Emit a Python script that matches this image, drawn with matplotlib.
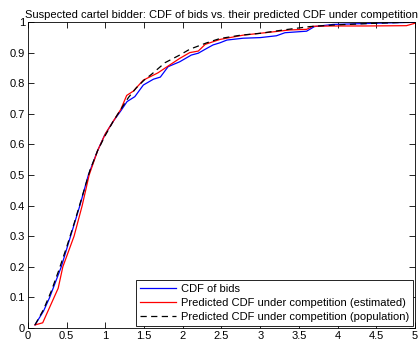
import matplotlib
matplotlib.use("Agg")
import matplotlib.pyplot as plt

plt.rcParams['font.family'] = ['Liberation Sans', 'DejaVu Sans']

title = "Suspected cartel bidder: CDF of bids vs. their predicted CDF under competition"
labels = ["CDF of bids",
          "Predicted CDF under competition (estimated)",
          "Predicted CDF under competition (population)"]

bids_x = [0.09, 0.2, 0.28, 0.43, 0.55, 0.67, 0.78, 0.9, 0.99, 1.1, 1.2, 1.28, 1.38,
          1.49, 1.62, 1.71, 1.81, 1.96, 2.11, 2.2, 2.29, 2.39, 2.48, 2.57, 2.78, 3.0,
          3.21, 3.32, 3.6, 3.7, 3.94, 4.5, 5.0]
bids_y = [0.01, 0.055, 0.10, 0.2, 0.3, 0.4, 0.5, 0.58, 0.63, 0.675, 0.71,
          0.74, 0.756, 0.794, 0.813, 0.82, 0.854, 0.87, 0.892, 0.898, 0.911, 0.925,
          0.932, 0.941, 0.947, 0.949, 0.955, 0.965, 0.97, 0.985, 0.992, 0.996, 0.999]

est_x = [0.09, 0.19, 0.39, 0.45, 0.595, 0.7, 0.79, 0.9, 1.0, 1.1, 1.2, 1.275, 1.36, 1.49,
         1.68, 1.81, 1.96, 2.09, 2.2, 2.29, 2.48, 2.78, 3.21, 3.38, 3.6, 3.68, 3.94,
         4.37, 4.89, 5.0]
est_y = [0.01, 0.017, 0.13, 0.2, 0.3, 0.4, 0.5, 0.58, 0.635, 0.675, 0.715, 0.76,
         0.774, 0.81, 0.834, 0.856, 0.881, 0.90, 0.905, 0.927, 0.943, 0.957, 0.969,
         0.974, 0.976, 0.986, 0.987, 0.987, 0.988, 0.996]

pop_x = [0.09, 0.2, 0.3, 0.4, 0.5, 0.6, 0.7, 0.8, 0.9, 1.0, 1.1, 1.2, 1.3, 1.4, 1.5,
         1.6, 1.77, 1.96, 2.09, 2.31, 2.48, 2.75, 3.0, 3.3, 3.64, 3.94, 4.5, 5.0]
pop_y = [0.01, 0.06, 0.12, 0.19, 0.265, 0.345, 0.43, 0.515, 0.58, 0.63, 0.675, 0.715,
         0.754, 0.785, 0.81, 0.83, 0.867, 0.892, 0.911, 0.932, 0.946, 0.957, 0.963,
         0.974, 0.985, 0.99, 0.996, 1.0]

xticks = [0, 0.5, 1, 1.5, 2, 2.5, 3, 3.5, 4, 4.5, 5]
xticklabels = ["0", "0.5", "1", "1.5", "2", "2.5", "3", "3.5", "4", "4.5", "5"]
yticks = [0, 0.1, 0.2, 0.3, 0.4, 0.5, 0.6, 0.7, 0.8, 0.9, 1]
yticklabels = ["0", "0.1", "0.2", "0.3", "0.4", "0.5", "0.6", "0.7", "0.8", "0.9", "1"]

fig = plt.figure(figsize=(4.2, 3.42), dpi=100)
ax = fig.add_axes([28/420, 14/342, (415-28)/420, (328-22)/342])

ax.plot(bids_x, bids_y, color='#0000ff', lw=0.9, label=labels[0])
ax.plot(est_x, est_y, color='#ff0000', lw=0.9, label=labels[1])
ax.plot(pop_x, pop_y, color='black', lw=0.9, ls=(0, (5, 3.5)), label=labels[2])

ax.set_xlim(0, 5)
ax.set_ylim(0, 1)
ax.set_xticks(xticks)
ax.set_xticklabels(xticklabels)
ax.set_yticks(yticks)
ax.set_yticklabels(yticklabels)
ax.tick_params(direction='in', top=True, right=True, length=4, width=0.6,
               labelsize=8, pad=2)
for s in ax.spines.values():
    s.set_linewidth(0.6)

ax.set_title(title, fontsize=8, pad=3)

leg = ax.legend(loc='lower right', fontsize=8, frameon=True, fancybox=False,
                edgecolor='black', framealpha=1, handlelength=3.2,
                borderaxespad=0.2, labelspacing=0.35, borderpad=0.35,
                handletextpad=0.45)
leg.get_frame().set_linewidth(0.6)

fig.savefig("out.png", dpi=100)
